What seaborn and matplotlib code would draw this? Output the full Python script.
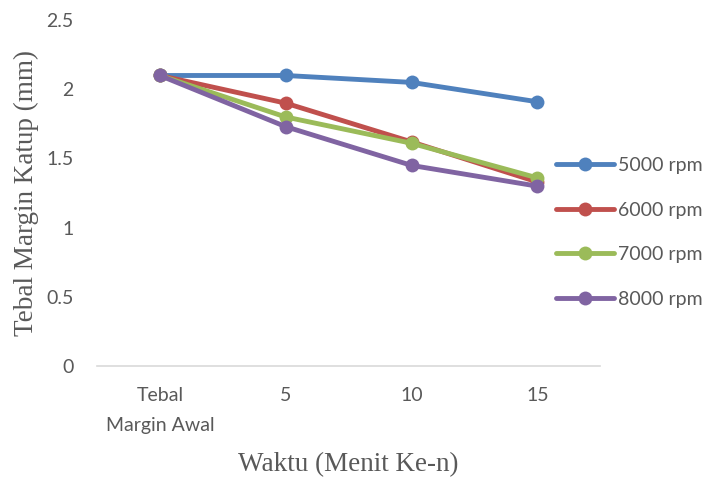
import matplotlib
matplotlib.use("Agg")
import matplotlib.pyplot as plt
import seaborn as sns
import pandas as pd

waktu = ["Tebal\nMargin Awal", "5", "10", "15"]
rpm_5000 = [2.10, 2.10, 2.05, 1.91]
rpm_6000 = [2.10, 1.90, 1.62, 1.33]
rpm_7000 = [2.10, 1.80, 1.61, 1.36]
rpm_8000 = [2.10, 1.73, 1.45, 1.30]
series_names = ["5000 rpm", "6000 rpm", "7000 rpm", "8000 rpm"]
colors = ["#4F81BD", "#C0504D", "#9BBB59", "#8064A2"]

rows = []
for name, vals in zip(series_names, [rpm_5000, rpm_6000, rpm_7000, rpm_8000]):
    for i, (w, v) in enumerate(zip(waktu, vals)):
        rows.append({"pos": i, "waktu": w, "tebal": v, "seri": name})
df = pd.DataFrame(rows)

sns.set_theme(style="white")
fig = plt.figure(figsize=(7.13, 4.8), dpi=100)
ax = fig.add_axes([0.136, 0.2375, 0.706, 0.7205])

sns.lineplot(data=df, x="pos", y="tebal", hue="seri", palette=colors,
             marker="o", markersize=10, markeredgewidth=0, linewidth=3.5,
             ax=ax, sort=False)

tick_font = {"family": "Lato", "size": 14}
ax.set_xlim(-0.5, 3.5)
ax.set_ylim(0, 2.5)
ax.set_xticks(range(len(waktu)))
ax.set_xticklabels(waktu, color="#595959", linespacing=1.95, **tick_font)
ax.set_yticks([0, 0.5, 1, 1.5, 2, 2.5])
ax.set_yticklabels(["0", "0.5", "1", "1.5", "2", "2.5"], color="#595959",
                   **tick_font)
ax.tick_params(axis="y", length=0, pad=17)
ax.tick_params(axis="x", length=0, pad=15)

for s in ["top", "right", "left"]:
    ax.spines[s].set_visible(False)
ax.spines["bottom"].set_color("#D9D9D9")
ax.spines["bottom"].set_linewidth(1.2)

ax.set_xlabel("Waktu (Menit Ke-n)", fontsize=19.5, family="Liberation Serif",
              color="#595959", labelpad=13)
ax.set_ylabel("Tebal Margin Katup (mm)", fontsize=19.5, family="Liberation Serif",
              color="#595959", labelpad=5)

leg = ax.legend(loc="upper left", bbox_to_anchor=(556 / 713, 1 - 157 / 480),
                bbox_transform=fig.transFigure, frameon=False,
                prop={"family": "Lato", "size": 14}, handlelength=3.0,
                labelspacing=1.42, handletextpad=0.2, borderaxespad=0,
                borderpad=0)
for t in leg.get_texts():
    t.set_color("#595959")

fig.savefig("out.png", dpi=100)
